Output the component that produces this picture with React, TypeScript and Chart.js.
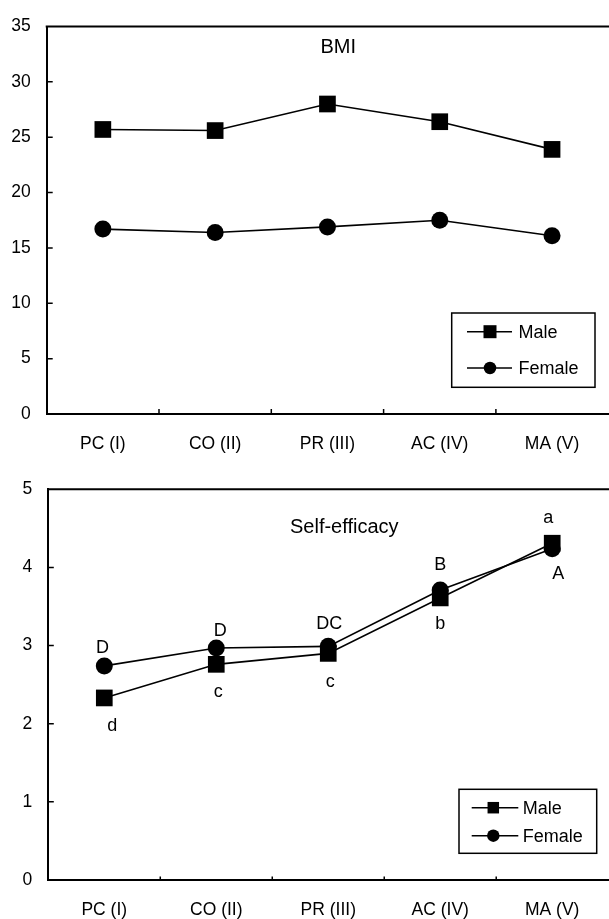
import React, { useEffect, useRef } from 'react';
import { Chart, registerables } from 'chart.js';

Chart.register(...registerables);

// ---------- data ----------
const categories = ['PC (I)', 'CO (II)', 'PR (III)', 'AC (IV)', 'MA (V)'];
const seriesNames = ['Male', 'Female'];

const bmiMale = [25.7, 25.6, 28.0, 26.4, 23.9];
const bmiFemale = [16.7, 16.4, 16.9, 17.5, 16.1];
const bmiTicks = [0, 5, 10, 15, 20, 25, 30, 35];

const seMale = [2.33, 2.76, 2.9, 3.61, 4.31];
const seFemale = [2.74, 2.97, 2.99, 3.71, 4.24];
const seTicks = [0, 1, 2, 3, 4, 5];
const seMaleLetters = ['d', 'c', 'c', 'b', 'a'];
const seFemaleLetters = ['D', 'D', 'DC', 'B', 'A'];

const bmiTitle = 'BMI';
const seTitle = 'Self-efficacy';

// ---------- styling ----------
const FONT = '"Liberation Sans", Arial, Helvetica, sans-serif';
const CANVAS_W = 620;

const framePlugin = {
  id: 'frame',
  afterDraw(chart: any, _args: any, opts: any) {
    const { ctx, chartArea: a, scales } = chart;
    const x = scales.x;
    const y = scales.y;
    ctx.save();
    ctx.strokeStyle = '#000';
    ctx.lineWidth = 2;
    ctx.beginPath();
    ctx.moveTo(a.left - 1, a.top);
    ctx.lineTo(a.right + 10, a.top);
    ctx.stroke();
    ctx.lineWidth = 1.5;
    ctx.beginPath();
    y.ticks.forEach((t: any) => {
      if (t.value === y.min || t.value === y.max) return;
      const py = y.getPixelForValue(t.value);
      ctx.moveTo(a.left, py);
      ctx.lineTo(a.left + opts.yTick, py);
    });
    const n = chart.data.labels.length;
    for (let i = 1; i < n; i++) {
      const px = (x.getPixelForValue(i - 1) + x.getPixelForValue(i)) / 2;
      ctx.moveTo(px, a.bottom);
      ctx.lineTo(px, a.bottom - opts.xTick);
    }
    ctx.stroke();
    // title text inside plot
    ctx.fillStyle = '#000';
    ctx.font = `${opts.titleSize}px ${FONT}`;
    ctx.textAlign = 'left';
    ctx.textBaseline = 'alphabetic';
    ctx.fillText(opts.title, opts.titleX, opts.titleY);
    ctx.restore();
  },
};

const boxLegendPlugin = {
  id: 'boxLegend',
  afterDraw(chart: any, _args: any, opts: any) {
    const { ctx } = chart;
    const b = opts.box;
    ctx.save();
    ctx.fillStyle = '#fff';
    ctx.fillRect(b.x1, b.y1, b.x2 - b.x1, b.y2 - b.y1);
    ctx.strokeStyle = '#000';
    ctx.lineWidth = 1.5;
    ctx.strokeRect(b.x1, b.y1, b.x2 - b.x1, b.y2 - b.y1);
    ctx.font = `${opts.fontSize}px ${FONT}`;
    ctx.textAlign = 'left';
    ctx.textBaseline = 'middle';
    opts.rows.forEach((r: any, i: number) => {
      ctx.beginPath();
      ctx.moveTo(opts.lineX1, r.y);
      ctx.lineTo(opts.lineX2, r.y);
      ctx.stroke();
      ctx.fillStyle = '#000';
      if (r.style === 'rect') {
        ctx.fillRect(opts.markerX - r.size / 2, r.y - r.size / 2, r.size, r.size);
      } else {
        ctx.beginPath();
        ctx.arc(opts.markerX, r.y, r.size / 2, 0, Math.PI * 2);
        ctx.fill();
      }
      ctx.fillText(seriesNames[i], opts.textX, r.y + 1);
    });
    ctx.restore();
  },
};

const lettersPlugin = {
  id: 'letters',
  afterDatasetsDraw(chart: any, _args: any, opts: any) {
    if (!opts || !opts.sets) return;
    const { ctx } = chart;
    ctx.save();
    ctx.fillStyle = '#000';
    ctx.font = `${opts.fontSize}px ${FONT}`;
    ctx.textAlign = 'center';
    ctx.textBaseline = 'alphabetic';
    opts.sets.forEach((s: any) => {
      const meta = chart.getDatasetMeta(s.dataset);
      s.letters.forEach((txt: string, j: number) => {
        const pt = meta.data[j];
        const [dx, dy] = s.offsets[j];
        ctx.fillText(txt, pt.x + dx, pt.y + dy);
      });
    });
    ctx.restore();
  },
};

function makeConfig(p: {
  male: number[];
  female: number[];
  ticks: number[];
  padTop: number;
  padRight: number;
  yWidth: number;
  xHeight: number;
  maleRadius: number;
  femaleRadius: number;
  frame: any;
  legend: any;
  letters?: any;
}) {
  const tickFont = { family: FONT, size: 17.5 };
  return {
    type: 'line',
    data: {
      labels: categories,
      datasets: [
        {
          label: seriesNames[0],
          data: p.male,
          borderColor: '#000',
          backgroundColor: '#000',
          borderWidth: 1.6,
          pointStyle: 'rect',
          pointRadius: p.maleRadius,
          pointBackgroundColor: '#000',
          pointBorderColor: '#000',
          pointBorderWidth: 0,
          tension: 0,
          clip: false,
        },
        {
          label: seriesNames[1],
          data: p.female,
          borderColor: '#000',
          backgroundColor: '#000',
          borderWidth: 1.6,
          pointStyle: 'circle',
          pointRadius: p.femaleRadius,
          pointBackgroundColor: '#000',
          pointBorderColor: '#000',
          pointBorderWidth: 0,
          tension: 0,
          clip: false,
        },
      ],
    },
    options: {
      responsive: false,
      animation: false,
      events: [],
      layout: { padding: { top: p.padTop, right: p.padRight, left: 0, bottom: 0 } },
      plugins: {
        legend: { display: false },
        tooltip: { enabled: false },
        title: { display: false },
        frame: p.frame,
        boxLegend: p.legend,
        letters: p.letters || {},
      },
      scales: {
        x: {
          type: 'category',
          offset: true,
          grid: { display: false, drawTicks: false, tickLength: 0 },
          border: { display: true, color: '#000', width: 2 },
          ticks: { color: '#000', font: tickFont, padding: 20, maxRotation: 0, autoSkip: false },
          afterFit(scale: any) {
            scale.height = p.xHeight;
          },
        },
        y: {
          type: 'linear',
          min: p.ticks[0],
          max: p.ticks[p.ticks.length - 1],
          afterBuildTicks(scale: any) {
            scale.ticks = p.ticks.map((v) => ({ value: v }));
          },
          grid: { display: false, drawTicks: false, tickLength: 0 },
          border: { display: true, color: '#000', width: 2 },
          ticks: { color: '#000', font: tickFont, padding: 16 },
          afterFit(scale: any) {
            scale.width = p.yWidth;
          },
        },
      },
    },
    plugins: [framePlugin, boxLegendPlugin, lettersPlugin],
  } as any;
}

function ChartCanvas({ config, top, height }: { config: () => any; top: number; height: number }) {
  const ref = useRef<HTMLCanvasElement>(null);
  useEffect(() => {
    const chart = new Chart(ref.current as HTMLCanvasElement, config());
    return () => chart.destroy();
  }, []);
  return (
    <canvas
      ref={ref}
      width={CANVAS_W}
      height={height}
      style={{ position: 'absolute', left: 0, top, width: CANVAS_W, height, display: 'block' }}
    />
  );
}

const bmiConfig = () =>
  makeConfig({
    male: bmiMale,
    female: bmiFemale,
    ticks: bmiTicks,
    padTop: 18.3,
    padRight: CANVAS_W - 610.7,
    yWidth: 46.7,
    xHeight: 46,
    maleRadius: 11.8,
    femaleRadius: 8.5,
    frame: { yTick: 6, xTick: 5, title: bmiTitle, titleSize: 20, titleX: 320.5, titleY: 53.3 },
    legend: {
      box: { x1: 451.7, y1: 313, x2: 595, y2: 387.3 },
      rows: [
        { y: 331.7, style: 'rect', size: 13 },
        { y: 368, style: 'circle', size: 12.5 },
      ],
      lineX1: 467,
      lineX2: 512,
      markerX: 490,
      textX: 518.5,
      fontSize: 18,
    },
  });

const seConfig = () =>
  makeConfig({
    male: seMale,
    female: seFemale,
    ticks: seTicks,
    padTop: 29.3,
    padRight: CANVAS_W - 612.5,
    yWidth: 48.3,
    xHeight: 39,
    maleRadius: 11.8,
    femaleRadius: 8.5,
    frame: { yTick: 5.5, xTick: 3.5, title: seTitle, titleSize: 20, titleX: 290, titleY: 73 },
    legend: {
      box: { x1: 459, y1: 329.3, x2: 596.7, y2: 393.3 },
      rows: [
        { y: 347.7, style: 'rect', size: 11.5 },
        { y: 375.7, style: 'circle', size: 12.5 },
      ],
      lineX1: 471.7,
      lineX2: 518.3,
      markerX: 493.3,
      textX: 522.7,
      fontSize: 18,
    },
    letters: {
      fontSize: 18,
      sets: [
        {
          dataset: 0,
          letters: seMaleLetters,
          offsets: [
            [8, 33.4],
            [2, 32.5],
            [2, 34],
            [0, 30.6],
            [-4, -20.3],
          ],
        },
        {
          dataset: 1,
          letters: seFemaleLetters,
          offsets: [
            [-1.7, -12.7],
            [4, -12.3],
            [1, -17.7],
            [0, -20],
            [6, 30.6],
          ],
        },
      ],
    },
  });

export default function App() {
  return (
    <div
      style={{
        position: 'fixed',
        left: 0,
        top: 0,
        width: 609,
        height: 919,
        overflow: 'hidden',
        background: '#fff',
      }}
    >
      <ChartCanvas config={bmiConfig} top={0} height={460} />
      <ChartCanvas config={seConfig} top={460} height={459} />
    </div>
  );
}
